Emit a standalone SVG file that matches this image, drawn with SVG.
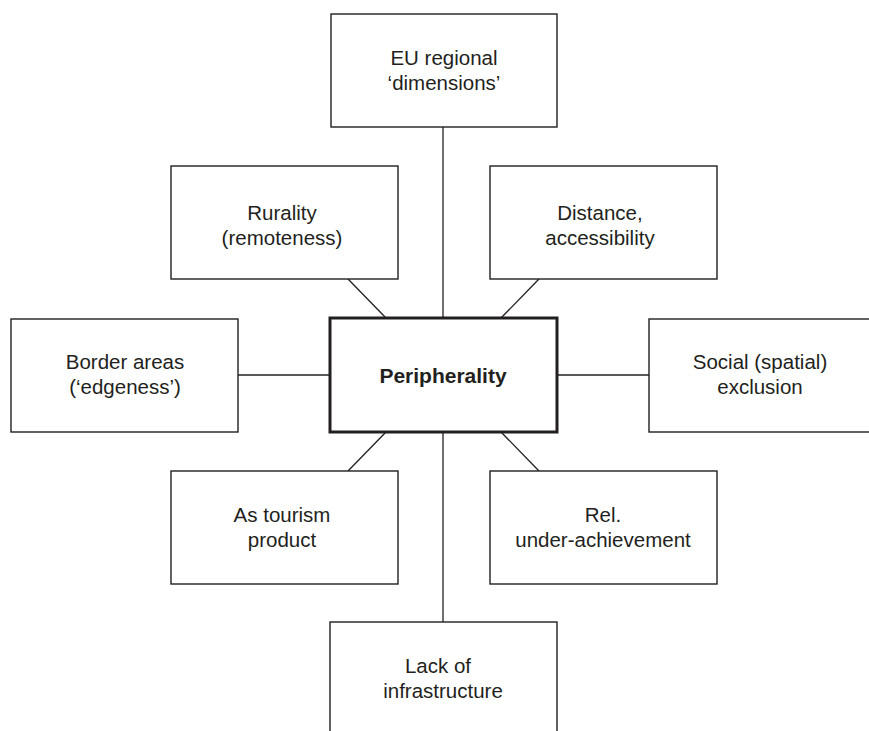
<svg xmlns="http://www.w3.org/2000/svg" width="869" height="731" viewBox="0 0 869 731">
<style>
.box{fill:#fff;stroke:#231f20;stroke-width:1.4}
.core{fill:#fff;stroke:#231f20;stroke-width:3}
.t{font-family:"Liberation Sans",Arial,sans-serif;font-size:20.5px;fill:#231f20;text-anchor:middle}
.b{font-family:"Liberation Sans",Arial,sans-serif;font-size:21px;font-weight:bold;fill:#231f20;text-anchor:middle}
.c{stroke:#231f20;stroke-width:1.3;fill:none}
</style>
<rect width="869" height="731" fill="#fff"/>
<g id="connectors" class="c">
<line x1="443" y1="127" x2="443" y2="318"/>
<line x1="443" y1="432" x2="443" y2="622"/>
<line x1="348" y1="279" x2="386" y2="318"/>
<line x1="539" y1="279" x2="501" y2="318"/>
<line x1="386" y1="432" x2="348" y2="471"/>
<line x1="501" y1="432" x2="539" y2="471"/>
<line x1="238" y1="375" x2="330" y2="375"/>
<line x1="557" y1="375" x2="649" y2="375"/>
</g>
<g id="eu">
<rect class="box" x="331" y="14" width="226" height="113"/>
<text class="t" x="444" y="65">EU regional</text>
<text class="t" x="444" y="90">‘dimensions’</text>
</g>
<g id="rurality">
<rect class="box" x="171" y="166" width="227" height="113"/>
<text class="t" x="282" y="220">Rurality</text>
<text class="t" x="282" y="245">(remoteness)</text>
</g>
<g id="distance">
<rect class="box" x="490" y="166" width="227" height="113"/>
<text class="t" x="600" y="220">Distance,</text>
<text class="t" x="600" y="245">accessibility</text>
</g>
<g id="border">
<rect class="box" x="11" y="319" width="227" height="113"/>
<text class="t" x="125" y="369">Border areas</text>
<text class="t" x="125" y="394">(‘edgeness’)</text>
</g>
<g id="core">
<rect class="core" x="330" y="318" width="227" height="114"/>
<text class="b" x="443" y="383">Peripherality</text>
</g>
<g id="social">
<rect class="box" x="649" y="319" width="227" height="113"/>
<text class="t" x="760" y="369">Social (spatial)</text>
<text class="t" x="760" y="394">exclusion</text>
</g>
<g id="tourism">
<rect class="box" x="171" y="471" width="227" height="113"/>
<text class="t" x="282" y="522">As tourism</text>
<text class="t" x="282" y="547">product</text>
</g>
<g id="rel">
<rect class="box" x="490" y="471" width="227" height="113"/>
<text class="t" x="603" y="522">Rel.</text>
<text class="t" x="603" y="547">under-achievement</text>
</g>
<g id="infra">
<rect class="box" x="330" y="622" width="227" height="150"/>
<text class="t" x="438" y="673">Lack of</text>
<text class="t" x="443" y="698">infrastructure</text>
</g>
</svg>
